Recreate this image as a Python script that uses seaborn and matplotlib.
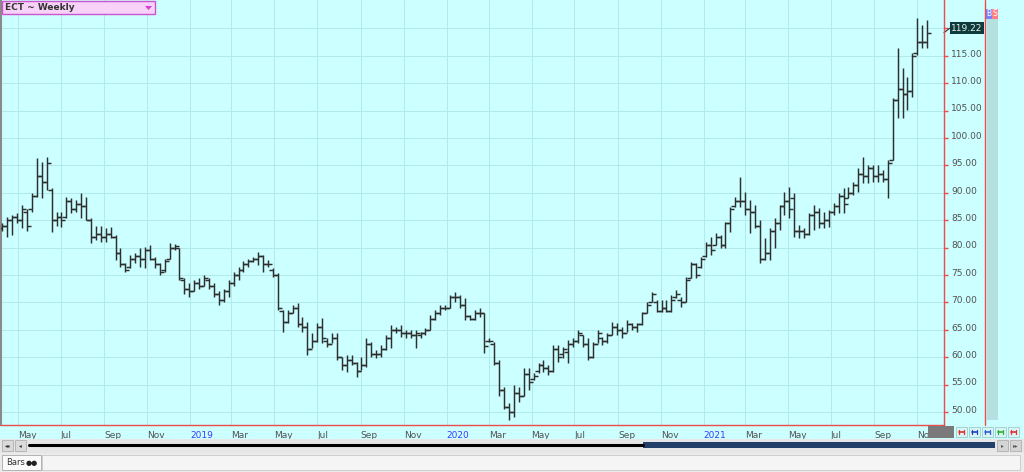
import numpy as np
import pandas as pd
import matplotlib
matplotlib.use("Agg")
import matplotlib.pyplot as plt
from matplotlib.patches import Rectangle, Polygon
from matplotlib.lines import Line2D
from matplotlib.transforms import ScaledTranslation, blended_transform_factory
import seaborn as sns

# weekly ECT bars (Mondays)
start = "2018-04-09"
opens = [83.5, 84.0, 85.0, 85.5, 85.0, 86.5, 87.0, 89.5, 93.0, 92.0,
         90.5, 85.0, 85.5, 85.5, 88.5, 87.0, 88.0, 87.5, 85.0, 82.0,
         82.5, 82.0, 82.5, 82.0, 79.0, 77.0, 76.5, 78.0, 78.5, 78.0,
         79.5, 78.0, 77.0, 76.0, 78.0, 80.0, 80.0, 74.0, 72.5, 72.0,
         73.5, 73.0, 74.0, 73.0, 71.5, 70.5, 72.0, 73.5, 75.0, 76.0,
         77.0, 77.5, 78.0, 78.5, 77.0, 76.0, 75.0, 68.5, 66.5, 68.0,
         69.0, 66.0, 65.5, 61.5, 63.0, 65.5, 63.0, 62.5, 63.5, 60.0,
         58.5, 59.5, 59.0, 57.5, 58.5, 62.5, 60.5, 60.5, 61.5, 63.5,
         65.0, 65.0, 64.5, 64.5, 64.0, 64.0, 64.5, 65.0, 67.0, 68.0,
         69.0, 69.0, 71.0, 71.0, 69.5, 67.5, 67.0, 68.0, 68.0, 63.0,
         62.5, 59.0, 54.0, 51.0, 50.0, 53.5, 53.0, 57.0, 56.0, 57.5,
         58.5, 58.0, 57.5, 61.5, 60.5, 61.0, 62.5, 63.0, 64.0, 62.5,
         60.0, 62.5, 63.5, 63.0, 64.0, 65.5, 65.0, 64.5, 66.0, 65.5,
         66.0, 68.0, 70.0, 70.0, 68.5, 69.0, 68.5, 71.0, 70.5, 70.0,
         74.5, 77.0, 76.5, 78.5, 80.5, 80.5, 82.0, 80.5, 84.5, 87.5,
         88.5, 88.5, 87.0, 86.5, 84.0, 78.0, 79.0, 83.0, 84.5, 87.5,
         88.5, 89.0, 83.0, 83.0, 82.5, 86.0, 86.5, 84.5, 85.0, 86.5,
         87.5, 89.5, 89.0, 90.0, 91.5, 93.5, 93.0, 94.5, 93.0, 93.5,
         92.5, 96.0, 107.0, 109.0, 108.0, 108.5, 115.5, 117.5, 117.5]
highs = [84.5, 85.6, 86.0, 86.3, 87.8, 87.0, 90.0, 96.3, 95.6, 96.5,
         90.9, 86.5, 86.5, 89.2, 89.0, 88.7, 90.0, 89.2, 85.4, 84.0,
         84.0, 83.6, 83.8, 82.3, 80.0, 77.2, 78.6, 79.0, 80.0, 80.1,
         80.5, 78.3, 77.2, 78.0, 80.8, 80.7, 80.0, 74.5, 73.5, 74.0,
         74.5, 75.0, 74.5, 73.5, 72.0, 72.5, 74.0, 75.5, 76.5, 77.5,
         78.0, 78.3, 79.2, 78.6, 77.7, 76.3, 75.4, 68.6, 68.6, 69.5,
         69.9, 67.3, 66.4, 64.4, 66.2, 67.2, 63.5, 64.4, 64.4, 60.0,
         60.4, 60.4, 59.1, 60.0, 63.5, 62.8, 61.3, 62.2, 64.0, 65.9,
         65.5, 65.9, 65.0, 65.0, 65.0, 64.6, 65.3, 67.7, 68.6, 69.5,
         69.5, 71.3, 71.9, 71.3, 70.8, 67.7, 68.6, 69.0, 68.0, 63.5,
         62.8, 59.5, 54.6, 51.6, 55.0, 54.6, 58.0, 58.0, 57.1, 59.0,
         59.5, 58.6, 62.2, 62.2, 61.9, 63.1, 63.5, 65.0, 64.0, 63.5,
         62.8, 65.0, 63.7, 64.4, 66.4, 66.2, 65.5, 66.8, 66.2, 66.2,
         68.2, 70.0, 71.9, 70.4, 70.4, 70.4, 71.3, 72.3, 71.0, 74.6,
         77.4, 77.2, 78.3, 81.0, 82.0, 82.7, 82.3, 84.7, 87.4, 89.2,
         92.9, 90.1, 88.7, 87.8, 85.0, 81.8, 83.6, 85.4, 87.8, 90.1,
         91.1, 90.0, 84.1, 83.6, 86.3, 87.8, 87.2, 86.5, 86.9, 88.1,
         90.0, 90.9, 91.1, 92.0, 94.5, 96.5, 95.1, 95.1, 95.1, 94.2,
         96.0, 107.3, 116.4, 112.8, 111.1, 115.5, 121.9, 120.6, 121.5]
lows = [83.0, 82.0, 82.3, 84.5, 83.6, 83.0, 86.5, 89.2, 89.0, 90.5,
        82.8, 84.0, 83.8, 85.4, 86.3, 86.5, 85.4, 85.0, 80.8, 81.4,
        81.0, 81.0, 81.8, 77.7, 76.5, 75.5, 76.3, 77.2, 76.5, 76.3,
        77.7, 76.3, 75.0, 75.5, 78.0, 79.6, 74.0, 71.5, 71.0, 72.0,
        72.5, 73.0, 72.5, 71.0, 69.5, 70.0, 71.0, 73.0, 74.0, 75.5,
        76.5, 77.4, 76.8, 75.5, 76.5, 74.6, 68.6, 64.6, 66.2, 68.0,
        65.5, 64.6, 60.4, 61.7, 62.8, 62.6, 61.9, 62.6, 59.5, 57.7,
        57.3, 58.6, 56.4, 57.7, 58.2, 60.0, 59.9, 60.0, 61.3, 61.7,
        64.4, 63.7, 63.5, 63.5, 61.7, 63.5, 64.0, 65.0, 66.8, 67.7,
        68.6, 69.0, 70.0, 69.0, 66.8, 66.8, 66.8, 67.3, 60.8, 62.8,
        58.6, 53.0, 50.5, 48.5, 49.0, 51.8, 53.0, 54.0, 55.8, 57.1,
        57.3, 56.8, 57.3, 59.1, 59.9, 58.9, 61.9, 62.6, 61.9, 59.5,
        59.9, 62.6, 62.2, 62.6, 64.0, 64.0, 63.5, 64.6, 65.0, 64.6,
        65.9, 68.0, 70.0, 68.2, 68.2, 68.2, 68.2, 70.8, 69.2, 70.0,
        74.5, 74.5, 76.3, 78.3, 78.6, 80.5, 80.0, 80.0, 82.8, 87.4,
        87.4, 86.0, 82.7, 83.6, 77.2, 77.7, 77.7, 80.0, 83.2, 86.0,
        85.4, 81.9, 81.8, 81.8, 82.3, 83.2, 83.6, 83.6, 83.8, 86.0,
        86.3, 86.3, 89.0, 89.6, 90.1, 91.8, 91.8, 92.0, 92.0, 92.0,
        89.0, 96.0, 103.6, 103.6, 105.1, 107.5, 115.1, 116.4, 116.4]
closes = [84.0, 85.0, 85.5, 85.0, 87.0, 84.0, 89.5, 93.0, 92.0, 95.5,
          85.0, 85.5, 85.0, 88.5, 87.0, 88.0, 87.5, 85.0, 82.0, 82.5,
          82.0, 82.5, 82.0, 79.0, 77.0, 76.0, 78.0, 78.5, 78.0, 79.5,
          78.0, 77.0, 75.5, 77.5, 80.0, 80.3, 74.5, 72.5, 72.0, 73.5,
          73.0, 74.5, 73.0, 71.5, 70.5, 72.0, 73.5, 75.0, 76.0, 77.0,
          77.5, 78.0, 78.5, 77.0, 77.0, 75.0, 69.0, 66.5, 68.0, 69.0,
          66.0, 65.5, 61.5, 63.0, 65.5, 63.5, 62.5, 63.5, 60.0, 58.5,
          59.5, 59.0, 57.5, 58.5, 62.5, 60.5, 60.5, 61.5, 63.5, 65.0,
          65.0, 64.5, 64.5, 64.0, 64.5, 64.5, 65.0, 67.0, 68.0, 69.0,
          69.0, 71.0, 71.0, 69.5, 67.5, 67.0, 68.0, 68.0, 62.0, 63.0,
          59.0, 54.0, 51.0, 50.0, 53.5, 53.0, 57.0, 55.5, 56.5, 58.5,
          58.0, 57.5, 61.5, 60.0, 61.5, 62.5, 63.0, 64.5, 62.5, 60.0,
          62.5, 64.5, 63.0, 64.0, 65.5, 65.0, 64.5, 66.0, 65.5, 66.0,
          68.0, 69.5, 71.5, 68.5, 69.0, 68.5, 70.5, 71.5, 70.0, 74.0,
          77.0, 75.0, 78.0, 80.5, 79.5, 82.0, 80.5, 84.5, 87.0, 88.5,
          88.5, 87.0, 86.5, 84.0, 78.0, 79.0, 83.0, 84.5, 87.5, 88.5,
          87.0, 83.0, 83.0, 82.5, 86.0, 86.5, 84.5, 85.0, 86.5, 87.5,
          89.5, 88.0, 90.0, 91.5, 93.5, 93.0, 94.5, 93.0, 93.5, 92.5,
          95.5, 107.0, 109.0, 108.0, 108.5, 115.0, 117.5, 117.5, 119.22]

tick_dates = ["2018-05-01", "2018-07-01", "2018-09-01", "2018-11-01",
              "2019-01-01", "2019-03-01", "2019-05-01", "2019-07-01",
              "2019-09-01", "2019-11-01", "2020-01-01", "2020-03-01",
              "2020-05-01", "2020-07-01", "2020-09-01", "2020-11-01",
              "2021-01-01", "2021-03-01", "2021-05-01", "2021-07-01",
              "2021-09-01", "2021-11-01"]
tick_labels = ["May", "Jul", "Sep", "Nov", "2019", "Mar", "May", "Jul",
               "Sep", "Nov", "2020", "Mar", "May", "Jul", "Sep", "Nov",
               "2021", "Mar", "May", "Jul", "Sep", "Nov"]
price_ticks = [50, 55, 60, 65, 70, 75, 80, 85, 90, 95, 100, 105, 110, 115, 120]

df = pd.DataFrame({"open": opens, "high": highs, "low": lows, "close": closes})
df["date"] = pd.date_range(start, periods=len(df), freq="7D")

W, H = 1024, 472
def fx(x):
    return x / W
def fy(y):
    return 1 - y / H

bg = "#CCFFFF"
grid_c = "#B0EAEA"
red = "#EE4B4B"
bar_c = "#2E2E2E"

sns.set_theme(style="white")
plt.rcParams["font.family"] = ["DejaVu Sans"]

fig = plt.figure(figsize=(10.24, 4.72), dpi=100, facecolor=bg)
ax = fig.add_axes([fx(1), fy(425), 943 / W, 425 / H])
ax.set_facecolor(bg)

# OHLC bars
ax.vlines(df["date"], df["low"], df["high"], color=bar_c, lw=1.05, zorder=3)
sns.lineplot(data=df, x="date", y="open", marker=0, linestyle="", ms=2.6,
             mew=1.05, mec=bar_c, color=bar_c, ax=ax, zorder=3)
sns.lineplot(data=df, x="date", y="close", marker=1, linestyle="", ms=2.6,
             mew=1.05, mec=bar_c, color=bar_c, ax=ax, zorder=3)

d0 = df["date"].iloc[0]
ax.set_xlim(d0 - pd.Timedelta(days=2), d0 + pd.Timedelta(days=1340))
ax.set_ylim(47.63, 125.18)
ax.set_xlabel("")
ax.set_ylabel("")

ax.set_xticks(pd.to_datetime(tick_dates))
ax.set_xticklabels(tick_labels)
for lbl in ax.get_xticklabels():
    lbl.set_ha("left")
    lbl.set_color("#3A3AFF" if lbl.get_text().isdigit() else "#505050")
ax.yaxis.tick_right()
ax.set_yticks(price_ticks)
ax.set_yticklabels([f"{v:.2f}" for v in price_ticks])
ax.tick_params(axis="x", length=3, width=1, color=red, labelsize=6.5, pad=1.5)
ax.tick_params(axis="y", length=3, width=1, color=red, labelsize=6.5,
               labelcolor="#505050", pad=2, direction="out")
shift = ScaledTranslation(0, 2 / 72, fig.dpi_scale_trans)
for lbl in ax.get_yticklabels():
    lbl.set_transform(lbl.get_transform() + shift)

ax.grid(True, color=grid_c, lw=0.7)
ax.set_axisbelow(True)
ax.spines["top"].set_visible(False)
ax.spines["left"].set_color("#8A8A8A")
ax.spines["left"].set_linewidth(1.5)
for s in ["bottom", "right"]:
    ax.spines[s].set_color(red)
    ax.spines[s].set_linewidth(1.0)

# last price tag
last = df.iloc[-1]
tr = blended_transform_factory(ax.transAxes, ax.transData)
ax.plot([1.0, 1.006], [last["close"], last["close"] + 0.8], color=bar_c,
        lw=0.8, transform=tr, clip_on=False)
ax.text(1.0075, last["close"] + 0.8, f"{last['close']:.2f}", transform=tr,
        ha="left", va="center", fontsize=6.5, color="#E8F0F0", zorder=6,
        bbox=dict(boxstyle="square,pad=0.15", fc="#0E3A3A", ec="none"))


def prect(x, y, w, h, **kw):
    r = Rectangle((fx(x), fy(y + h)), w / W, h / H, transform=fig.transFigure, **kw)
    fig.add_artist(r)
    return r


def pline(xs, ys, **kw):
    fig.add_artist(Line2D([fx(v) for v in xs], [fy(v) for v in ys],
                          transform=fig.transFigure, **kw))


# right side panel
pline([985, 985], [0, 425], color=red, lw=1)
prect(987, 19, 11, 401, fc="#B5E0E0", ec="none")
prect(986, 9, 6, 10, fc="#7F7FFF", ec="none")
prect(992, 9, 6, 10, fc="#FF8080", ec="none")
fig.text(fx(989), fy(14), "B", fontsize=5.5, color="white", ha="center", va="center")
fig.text(fx(995), fy(14), "S", fontsize=5.5, color="white", ha="center", va="center")

# title box
prect(2, 1, 153, 13, fc="#F8D2F8", ec="#CC55CC", lw=1)
fig.text(fx(5), fy(7.5), "ECT ~ Weekly", fontsize=6.5, fontweight="bold",
         color="#333333", ha="left", va="center")
fig.add_artist(Polygon([(fx(145), fy(6)), (fx(152), fy(6)), (fx(148.5), fy(10))],
                       closed=True, transform=fig.transFigure, fc="#D040D0", ec="none"))

# bottom-right controls
prect(928, 426, 26, 12, fc="#7A7A7A", ec="none")
btn_colors = ["#E03030", "#2040C0", "#3060E0", "#30B030", "#E03030"]
for i, c in enumerate(btn_colors):
    x0 = 956 + i * 13
    prect(x0, 427, 11, 10, fc="#D8F4F4", ec="#9CCCCC", lw=0.6)
    pline([x0 + 3, x0 + 8], [432, 432], color=c, lw=1.2)
    pline([x0 + 3, x0 + 3], [430, 434], color=c, lw=0.9)
    pline([x0 + 8, x0 + 8], [430, 434], color=c, lw=0.9)

# scroll bar row
prect(0, 439, 1024, 14, fc="#E6E6E6", ec="none")
prect(2, 440, 11, 11, fc="#DADADA", ec="#B0B0B0", lw=0.6)
prect(15, 440, 11, 11, fc="#DADADA", ec="#B0B0B0", lw=0.6)
fig.text(fx(7.5), fy(445.5), "◂◂", fontsize=4, color="#333", ha="center", va="center")
fig.text(fx(20.5), fy(445.5), "◂", fontsize=4, color="#333", ha="center", va="center")
pline([29, 643], [444.5, 444.5], color="black", lw=2.2)
prect(643, 442, 352, 6, fc="#213F68", ec="none")
prect(997, 440, 11, 11, fc="#D4D4D4", ec="#B0B0B0", lw=0.6)
prect(1010, 440, 11, 11, fc="#D4D4D4", ec="#B0B0B0", lw=0.6)
fig.text(fx(1002.5), fy(445.5), "▸", fontsize=4, color="#555", ha="center", va="center")
fig.text(fx(1015.5), fy(445.5), "▸▸", fontsize=4, color="#555", ha="center", va="center")

# bottom tab row
prect(0, 453, 1024, 19, fc="#EBEBEB", ec="none")
prect(42, 455, 978, 15, fc="#F5F5F5", ec="#C8C8C8", lw=0.6)
prect(2, 455, 39, 15, fc="#FAFAFA", ec="#A8A8A8", lw=0.6)
fig.text(fx(6), fy(462.5), "Bars", fontsize=6.0, color="#333333", ha="left", va="center")
fig.text(fx(26), fy(462.5), "●●", fontsize=5.0, color="#222222", ha="left", va="center")

fig.savefig("out.png", dpi=100, facecolor=bg)
